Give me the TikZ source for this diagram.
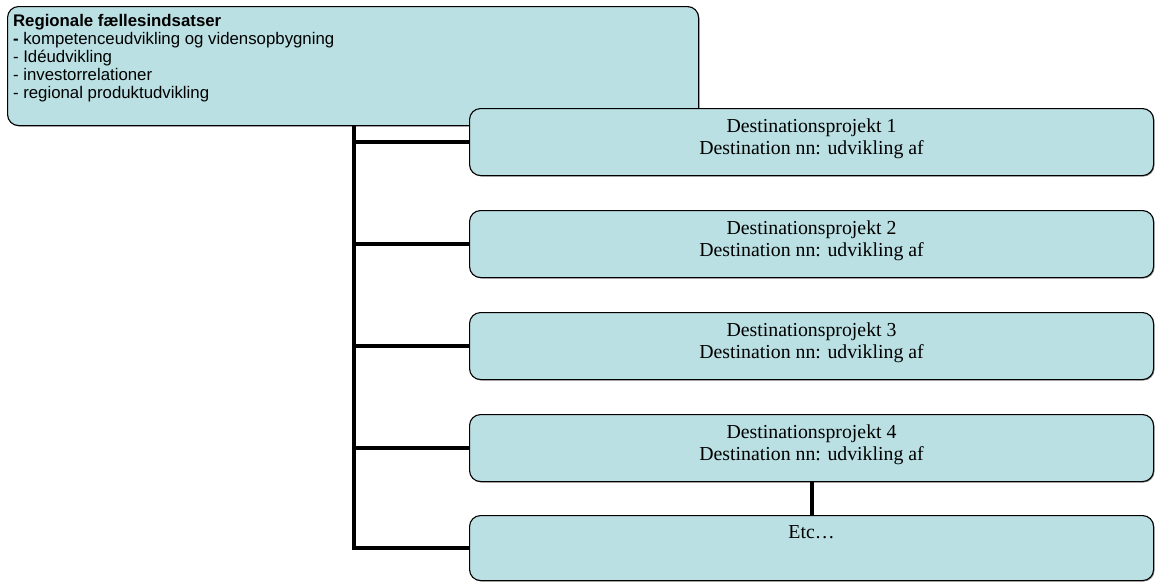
\documentclass[tikz,border=0pt]{standalone}
\usepackage{fontspec}
\setmainfont{Liberation Serif}
\newfontfamily\arialfont{Liberation Sans}
\usetikzlibrary{shadows}
\definecolor{boxblue}{RGB}{186,224,227}
\newcommand{\projtext}[1]{\parbox[c][61pt][t]{680pt}{\centering\fontsize{19.8}{22}\selectfont\vspace*{7.5pt}#1}}

\begin{document}
\begin{tikzpicture}[x=1pt,y=-1pt,
    box/.style={draw=black, line width=1.1pt, fill=boxblue, rounded corners=11pt, inner sep=0pt,
      drop shadow={shadow xshift=1pt, shadow yshift=-1pt, fill=black!60, opacity=.7}},
    proj/.style={box, anchor=north west, minimum width=684pt, minimum height=67pt},
    trunk/.style={line width=4pt}]
    \useasboundingbox (0,0) rectangle (1155,581);

    \node[box, anchor=north west, minimum width=691pt, minimum height=119pt] (regional) at (7,6)
      {\parbox[c][113pt][t]{680pt}{\arialfont\fontsize{16.8}{18}\selectfont
        \vspace*{5pt}\textbf{Regionale fællesindsatser}\\
        \textbf{-} kompetenceudvikling og vidensopbygning\\
        - Idéudvikling\\
        - investorrelationer\\
        - regional produktudvikling}};

    \node[proj] (d1) at (469,108) {\projtext{Destinationsprojekt 1\\Destination nn: udvikling af}};
    \node[proj] (d2) at (469,210) {\projtext{Destinationsprojekt 2\\Destination nn: udvikling af}};
    \node[proj] (d3) at (469,312) {\projtext{Destinationsprojekt 3\\Destination nn: udvikling af}};
    \node[proj] (d4) at (469,414) {\projtext{Destinationsprojekt 4\\Destination nn: udvikling af}};
    \node[proj, minimum height=65pt] (etc) at (469,515) {\projtext{Etc…}};

    \coordinate (top) at (354,125);
    \draw[trunk] (top) |- (etc.west);
    \foreach \d in {d1,d2,d3,d4}
      \draw[trunk] (top |- \d.west) -- (\d.west);
    \draw[trunk] (d4.south) -- (etc.north);
\end{tikzpicture}
\end{document}
